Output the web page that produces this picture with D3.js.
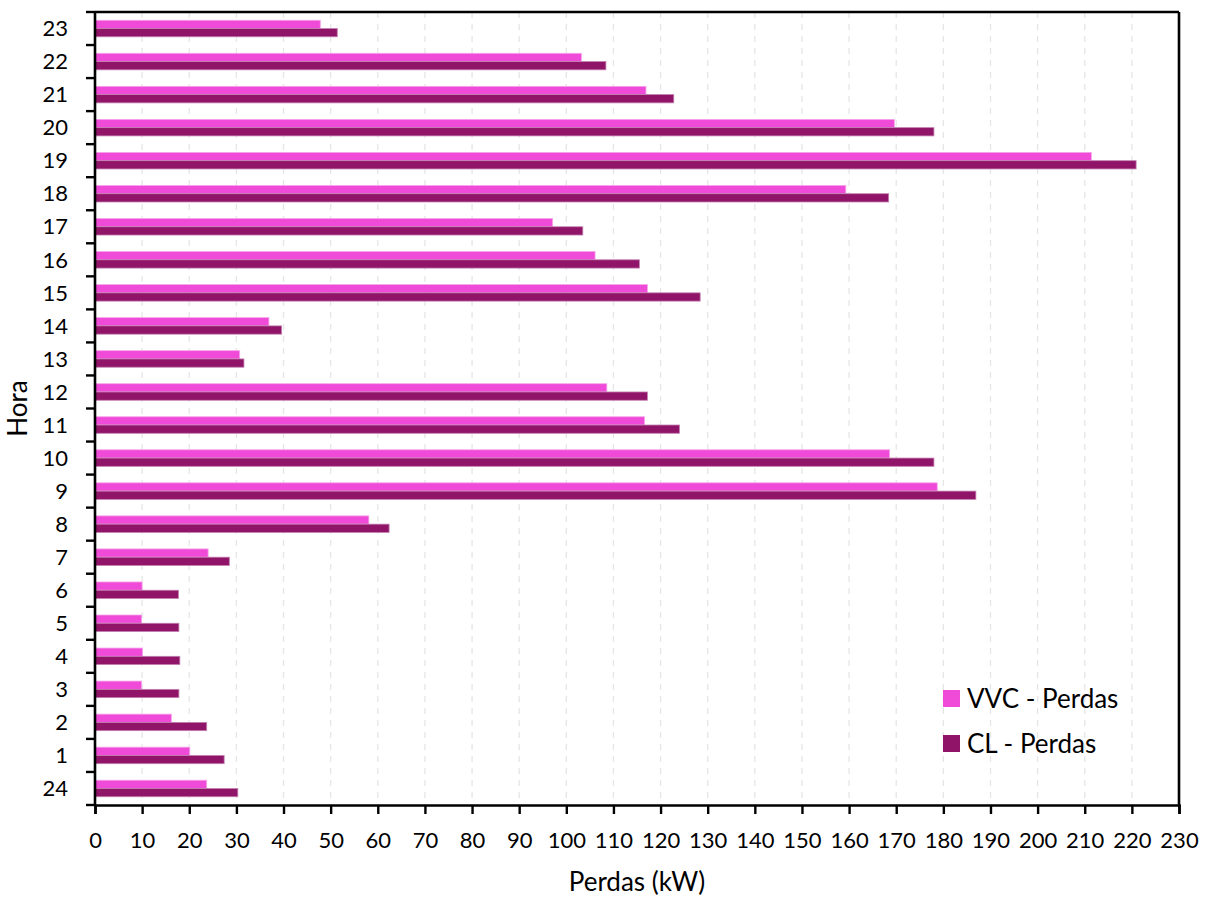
<!DOCTYPE html>
<html>
<head>
<meta charset="utf-8">
<script src="https://cdn.jsdelivr.net/npm/d3@7/dist/d3.min.js"></script>
<style>
  html, body { margin: 0; padding: 0; background: #ffffff; }
  svg { display: block; }
  text { font-family: Lato, "Open Sans", sans-serif; fill: #000; }
</style>
</head>
<body>
<svg id="chart" width="1207" height="900"></svg>
<script>
// Hours, listed bottom to top as on the vertical axis
const hours = ["24","1","2","3","4","5","6","7","8","9","10","11","12","13","14","15","16","17","18","19","20","21","22","23"];

// Losses (kW) per hour for each control strategy
const vvcLosses = [23.7, 20.1, 16.2, 9.9, 10.1, 9.9, 10.0, 24.0, 58.1, 178.7, 168.6, 116.6, 108.6, 30.7, 36.9, 117.2, 106.1, 97.1, 159.3, 211.4, 169.6, 116.9, 103.2, 47.8];
const clLosses  = [30.3, 27.4, 23.7, 17.8, 18.0, 17.8, 17.7, 28.5, 62.4, 186.9, 178.0, 124.0, 117.2, 31.6, 39.6, 128.4, 115.5, 103.5, 168.4, 220.9, 178.0, 122.8, 108.4, 51.4];

const xTicks = d3.range(0, 231, 10);

const seriesNames = ["VVC - Perdas", "CL - Perdas"];
const seriesColors = ["#f04ad8", "#901468"];
const seriesStroke = ["#f7a3ea", "#c27fb0"];

const svg = d3.select("#chart");
const margin = { left: 95, right: 28, top: 12, bottom: 95 };
const W = 1207, H = 900;
const plotW = W - margin.left - margin.right;
const plotH = H - margin.top - margin.bottom;

const x = d3.scaleLinear().domain([0, 230]).range([0, plotW]);
// top of the axis shows the last hour, so reverse the band order
const y = d3.scaleBand().domain(hours.slice().reverse()).range([0, plotH]).padding(0);
const inner = d3.scaleBand().domain([0, 1])
  .range([y.bandwidth() * 0.25, y.bandwidth() * 0.75]).padding(0);

const g = svg.append("g").attr("transform", `translate(${margin.left},${margin.top})`);

// dashed vertical gridlines
g.append("g")
  .selectAll("line")
  .data(xTicks.filter(d => d > 0 && d < 230))
  .join("line")
  .attr("x1", d => x(d)).attr("x2", d => x(d))
  .attr("y1", 0).attr("y2", plotH)
  .attr("stroke", "#e6e6e6")
  .attr("stroke-width", 1.3)
  .attr("stroke-dasharray", "6,6");

// bars
const rows = hours.map((h, i) => ({ h, vals: [vvcLosses[i], clLosses[i]] }));
const rowG = g.append("g").selectAll("g")
  .data(rows)
  .join("g")
  .attr("transform", d => `translate(0,${y(d.h)})`);

rowG.selectAll("rect")
  .data(d => d.vals.map((v, k) => ({ v, k })))
  .join("rect")
  .attr("x", 0)
  .attr("y", d => inner(d.k))
  .attr("width", d => x(d.v))
  .attr("height", inner.bandwidth())
  .attr("fill", d => seriesColors[d.k])
  .attr("stroke", d => seriesStroke[d.k])
  .attr("stroke-width", 0.8);

// x axis
const xAxis = d3.axisBottom(x).tickValues(xTicks).tickSize(9).tickPadding(18).tickFormat(d3.format("d"));
const xg = g.append("g").attr("transform", `translate(0,${plotH})`).call(xAxis);
xg.select(".domain").attr("stroke", "#000").attr("stroke-width", 2.6);
xg.selectAll(".tick line").attr("stroke", "#000").attr("stroke-width", 2.4);
xg.selectAll(".tick text").attr("font-size", 22).attr("font-family", "Lato, sans-serif");

// y axis: ticks sit on the band edges, labels at band centres
const yg = g.append("g");
const edges = d3.range(hours.length + 1).map(i => i * y.step());
yg.selectAll("line.edge")
  .data(edges)
  .join("line")
  .attr("class", "edge")
  .attr("x1", -9).attr("x2", 0)
  .attr("y1", d => d).attr("y2", d => d)
  .attr("stroke", "#000").attr("stroke-width", 2.4);
yg.append("line")
  .attr("x1", 0).attr("x2", 0).attr("y1", 0).attr("y2", plotH)
  .attr("stroke", "#000").attr("stroke-width", 2.6);
yg.selectAll("text")
  .data(hours)
  .join("text")
  .attr("x", -27)
  .attr("y", d => y(d) + y.bandwidth() / 2)
  .attr("dy", "0.35em")
  .attr("text-anchor", "end")
  .attr("font-size", 22)
  .text(d => d);

// frame: top and right borders
g.append("line").attr("x1", 0).attr("x2", plotW).attr("y1", 0).attr("y2", 0)
  .attr("stroke", "#000").attr("stroke-width", 2.6);
g.append("line").attr("x1", plotW).attr("x2", plotW).attr("y1", 0).attr("y2", plotH)
  .attr("stroke", "#000").attr("stroke-width", 2.6);

// axis titles
svg.append("text")
  .attr("x", margin.left + plotW / 2)
  .attr("y", 891)
  .attr("text-anchor", "middle")
  .attr("font-size", 26)
  .text("Perdas (kW)");

svg.append("text")
  .attr("transform", `translate(27,${margin.top + plotH / 2}) rotate(-90)`)
  .attr("text-anchor", "middle")
  .attr("font-size", 26)
  .text("Hora");

// legend
const legend = svg.append("g").attr("transform", "translate(943,690)");
const item = legend.selectAll("g")
  .data(seriesNames)
  .join("g")
  .attr("transform", (d, i) => `translate(0,${i * 45})`);
item.append("rect")
  .attr("width", 17).attr("height", 17)
  .attr("fill", (d, i) => seriesColors[i]);
item.append("text")
  .attr("x", 24).attr("y", 8.5).attr("dy", "0.36em")
  .attr("font-size", 26)
  .text(d => d);
</script>
</body>
</html>
